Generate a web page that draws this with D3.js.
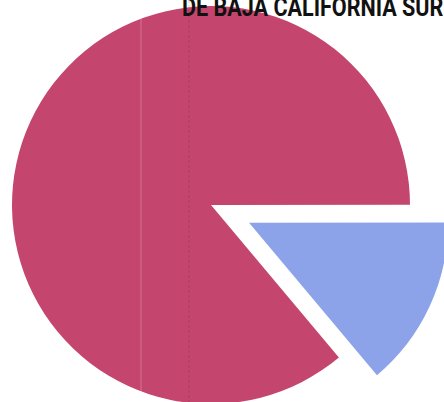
<!DOCTYPE html>
<meta charset="utf-8">
<style>
  body { margin: 0; background: #fff; }
  svg { display: block; }
  .title {
    font-family: Roboto, "DejaVu Sans", sans-serif;
    font-weight: bold;
    font-size: 26px;
    fill: #111;
  }
</style>
<body>
<svg id="chart" width="444" height="402"></svg>
<script src="https://d3js.org/d3.v7.min.js"></script>
<script>
  // two shares of the pie
  const categories = ["Mayoría", "Minoría"];
  const values = [86.1, 13.9];
  const colors = ["#c4466f", "#8ca3ea"];
  const titleText = "DE BAJA CALIFORNIA SUR";

  var svg = d3.select("svg#chart"),
    width = +svg.attr("width"),
    height = +svg.attr("height");

  const cx = 211, cy = 205, radius = 199;
  const explode = 42;

  const startDeg = 140;
  const pie = d3.pie()
    .sort(null)
    .value(d => d.value)
    .startAngle(startDeg * Math.PI / 180)
    .endAngle((startDeg + 360) * Math.PI / 180);

  const arc = d3.arc().innerRadius(0).outerRadius(radius);

  const data = categories.map((c, i) => ({ name: c, value: values[i], color: colors[i] }));

  const g = svg.append("g").attr("transform", `translate(${cx},${cy})`);

  g.selectAll("path")
    .data(pie(data))
    .enter().append("path")
    .attr("d", arc)
    .attr("fill", d => d.data.color)
    .attr("transform", (d, i) => {
      if (i === 0) return null;
      const mid = (d.startAngle + d.endAngle) / 2;
      return `translate(${Math.sin(mid) * explode},${-Math.cos(mid) * explode})`;
    });

  // faint scan folds
  svg.append("line").attr("x1", 141).attr("x2", 141).attr("y1", 0).attr("y2", height)
    .attr("stroke", "#fff").attr("stroke-opacity", 0.12).attr("stroke-width", 2);
  svg.append("line").attr("x1", 189).attr("x2", 189).attr("y1", 0).attr("y2", height)
    .attr("stroke", "#5a1830").attr("stroke-opacity", 0.15).attr("stroke-width", 1.5)
    .attr("stroke-dasharray", "3,2");

  // condensed heading, clipped by the page edge like the scan
  svg.append("text")
    .attr("class", "title")
    .attr("transform", "translate(182,16) scale(0.83,1)")
    .text(titleText);
</script>
</body>
